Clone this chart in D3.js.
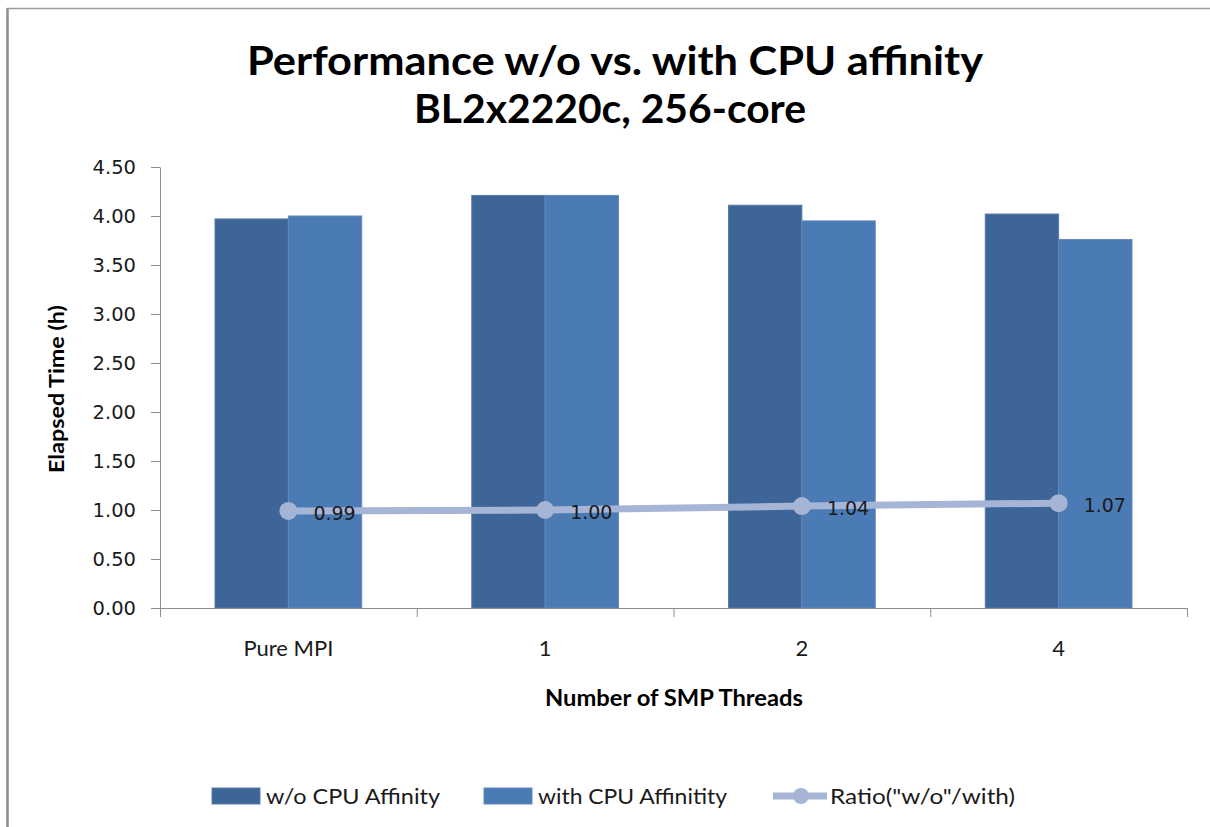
<!DOCTYPE html>
<html>
<head>
<meta charset="utf-8">
<script src="https://cdn.jsdelivr.net/npm/d3@7"></script>
<style>
  body { margin: 0; background: #fff; overflow: hidden; }
  svg { display: block; }
</style>
</head>
<body>
<div id="chart"></div>
<script>
// chart data
let categories = ["Pure MPI", "1", "2", "4"];
let withoutAffinity = [3.97, 4.21, 4.11, 4.02];
let withAffinity = [4.00, 4.21, 3.95, 3.76];
let ratio = [0.99, 1.00, 1.04, 1.07];
let yTicks = [0, 0.5, 1, 1.5, 2, 2.5, 3, 3.5, 4, 4.5];
let seriesNames = ["w/o CPU Affinity", "with CPU Affinitity", "Ratio(\"w/o\"/with)"];

let svgWidth = 1210;
let svgHeight = 827;

let margin = { top: 167, right: 23, bottom: 219, left: 160 };
let plot_width = svgWidth - margin.left - margin.right;
let plot_height = svgHeight - margin.top - margin.bottom;

let darkBlue = "#3d6597";
let lightBlue = "#4a7bb4";
let lineBlue = "#a6b5d5";
let axisGrey = "#8c8c8c";
let narrowFont = "Lato, 'Open Sans', sans-serif";
let tickFont = "'DejaVu Sans', Verdana, sans-serif";

let svg = d3.select("#chart")
  .append("svg")
  .attr("width", svgWidth)
  .attr("height", svgHeight);

// outer chart border: only the left and top edges fall inside the picture
svg.append("line")
  .attr("x1", 7.5).attr("x2", 7.5)
  .attr("y1", 8).attr("y2", svgHeight)
  .attr("stroke", axisGrey)
  .attr("stroke-width", 2.5);

svg.append("line")
  .attr("x1", 7).attr("x2", svgWidth)
  .attr("y1", 8.5).attr("y2", 8.5)
  .attr("stroke", "#9a9a9a")
  .attr("stroke-width", 1.5);

// titles
svg.append("text")
  .attr("x", 615)
  .attr("y", 75)
  .attr("text-anchor", "middle")
  .attr("font-family", narrowFont)
  .attr("font-weight", "bold")
  .attr("font-size", 41)
  .attr("textLength", 736)
  .attr("lengthAdjust", "spacingAndGlyphs")
  .text("Performance w/o vs. with CPU affinity");

svg.append("text")
  .attr("x", 610)
  .attr("y", 123)
  .attr("text-anchor", "middle")
  .attr("font-family", narrowFont)
  .attr("font-weight", "bold")
  .attr("font-size", 41)
  .attr("textLength", 392)
  .attr("lengthAdjust", "spacingAndGlyphs")
  .text("BL2x2220c, 256-core");

let chartGroup = svg.append("g")
  .attr("transform", `translate(${margin.left}, ${margin.top})`);

// scales
let xScale = d3.scaleBand()
  .domain(categories)
  .range([0, plot_width])
  .padding(0);

let innerScale = d3.scaleBand()
  .domain([0, 1])
  .range([0, xScale.bandwidth()])
  .paddingInner(0)
  .paddingOuter(0.75);

let yScale = d3.scaleLinear()
  .domain([0, 4.5])
  .range([plot_height, 0]);

// y axis
let leftAxis = d3.axisLeft(yScale)
  .tickValues(yTicks)
  .tickFormat(d3.format(".2f"))
  .tickSize(9)
  .tickSizeOuter(0)
  .tickPadding(15);

let yAxisGroup = chartGroup.append("g").call(leftAxis);
yAxisGroup.select(".domain").attr("stroke", axisGrey);
yAxisGroup.selectAll(".tick line").attr("stroke", axisGrey);
yAxisGroup.selectAll("text")
  .attr("font-family", tickFont)
  .attr("font-size", 19.5)
  .attr("fill", "#1a1a1a");

// bars
let barData = [];
categories.forEach(function(cat, i) {
  barData.push({ cat: cat, s: 0, value: withoutAffinity[i] });
  barData.push({ cat: cat, s: 1, value: withAffinity[i] });
});

chartGroup.selectAll("rect.bar")
  .data(barData)
  .enter()
  .append("rect")
  .attr("class", "bar")
  .attr("x", d => xScale(d.cat) + innerScale(d.s))
  .attr("y", d => yScale(d.value))
  .attr("width", innerScale.bandwidth())
  .attr("height", d => plot_height - yScale(d.value))
  .attr("fill", d => d.s === 0 ? darkBlue : lightBlue)
  .attr("stroke", d => d.s === 0 ? "#5a7aa8" : "#6388bb")
  .attr("stroke-width", 1);

// x axis: boundary ticks plus centred labels
let boundaryScale = d3.scaleLinear()
  .domain([0, categories.length])
  .range([0, plot_width]);

let xTickAxis = d3.axisBottom(boundaryScale)
  .tickValues(d3.range(categories.length + 1))
  .tickFormat("")
  .tickSize(9)
  .tickSizeOuter(0);

let xAxisGroup = chartGroup.append("g")
  .attr("transform", `translate(0, ${plot_height})`)
  .call(xTickAxis);
xAxisGroup.select(".domain").attr("stroke", axisGrey);
xAxisGroup.selectAll(".tick line").attr("stroke", axisGrey);

let bottomAxis = d3.axisBottom(xScale)
  .tickSize(0)
  .tickPadding(32);

let xLabelGroup = chartGroup.append("g")
  .attr("transform", `translate(0, ${plot_height})`)
  .call(bottomAxis);
xLabelGroup.select(".domain").remove();
xLabelGroup.selectAll("text")
  .attr("font-family", narrowFont)
  .attr("font-size", 22)
  .attr("fill", "#1a1a1a");

// ratio line
let ratioLine = d3.line()
  .x((d, i) => xScale(categories[i]) + xScale.bandwidth() / 2)
  .y(d => yScale(d));

chartGroup.append("path")
  .datum(ratio)
  .attr("d", ratioLine)
  .attr("fill", "none")
  .attr("stroke", lineBlue)
  .attr("stroke-width", 7);

chartGroup.selectAll("circle.marker")
  .data(ratio)
  .enter()
  .append("circle")
  .attr("class", "marker")
  .attr("cx", (d, i) => xScale(categories[i]) + xScale.bandwidth() / 2)
  .attr("cy", d => yScale(d))
  .attr("r", 9)
  .attr("fill", lineBlue);

chartGroup.selectAll("text.ratioLabel")
  .data(ratio)
  .enter()
  .append("text")
  .attr("class", "ratioLabel")
  .attr("x", (d, i) => xScale(categories[i]) + xScale.bandwidth() / 2 + 25)
  .attr("y", d => yScale(d) + 9)
  .attr("font-family", tickFont)
  .attr("font-size", 19)
  .attr("fill", "#1a1a1a")
  .text(d => d3.format(".2f")(d));

// axis titles
svg.append("text")
  .attr("transform", "translate(64, 389) rotate(-90)")
  .attr("text-anchor", "middle")
  .attr("font-family", narrowFont)
  .attr("font-weight", "bold")
  .attr("font-size", 21)
  .attr("textLength", 168)
  .attr("lengthAdjust", "spacingAndGlyphs")
  .text("Elapsed Time (h)");

svg.append("text")
  .attr("x", 674)
  .attr("y", 706)
  .attr("text-anchor", "middle")
  .attr("font-family", narrowFont)
  .attr("font-weight", "bold")
  .attr("font-size", 22)
  .attr("textLength", 258)
  .attr("lengthAdjust", "spacingAndGlyphs")
  .text("Number of SMP Threads");

// legend
let legendY = 796;
let legendItems = [
  { name: seriesNames[0], x: 212, textLen: 174, type: "bar", color: darkBlue },
  { name: seriesNames[1], x: 484, textLen: 189, type: "bar", color: lightBlue },
  { name: seriesNames[2], x: 773, textLen: 185, type: "line", color: lineBlue }
];

let legend = svg.append("g");
legendItems.forEach(function(item) {
  if (item.type === "bar") {
    legend.append("rect")
      .attr("x", item.x)
      .attr("y", legendY - 8)
      .attr("width", 48)
      .attr("height", 16)
      .attr("fill", item.color)
      .attr("stroke", item.color === darkBlue ? "#5a7aa8" : "#6388bb");
  } else {
    legend.append("line")
      .attr("x1", item.x)
      .attr("x2", item.x + 54)
      .attr("y1", legendY)
      .attr("y2", legendY)
      .attr("stroke", item.color)
      .attr("stroke-width", 7);
    legend.append("circle")
      .attr("cx", item.x + 28)
      .attr("cy", legendY)
      .attr("r", 8)
      .attr("fill", item.color);
  }
  legend.append("text")
    .attr("x", item.type === "bar" ? item.x + 54 : item.x + 57)
    .attr("y", legendY + 8)
    .attr("font-family", narrowFont)
    .attr("font-size", 22)
    .attr("fill", "#1a1a1a")
    .attr("textLength", item.textLen)
    .attr("lengthAdjust", "spacingAndGlyphs")
    .text(item.name);
});
</script>
</body>
</html>
